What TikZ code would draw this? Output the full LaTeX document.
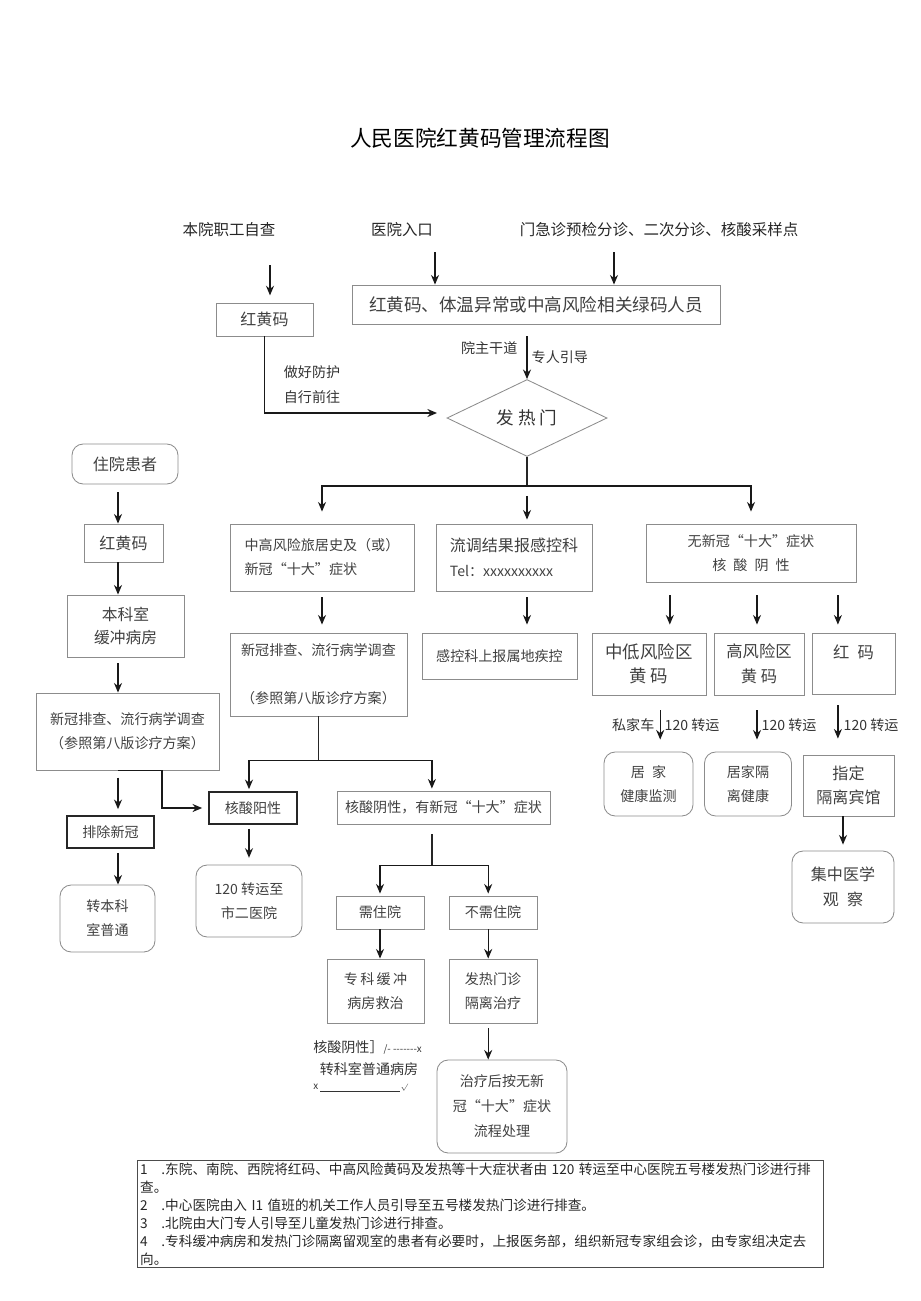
\documentclass[tikz,border=0pt]{standalone}
\usepackage{fontspec}
\setmainfont{Noto Sans CJK SC}
\usetikzlibrary{arrows.meta,shapes.geometric,positioning,calc}

\newcommand\boxfont{\fontsize{10pt}{17pt}\selectfont}
\newcommand\bigboxfont{\fontsize{11.4pt}{17.5pt}\selectfont}

\begin{document}
\begin{tikzpicture}[
        x=0.025cm, y=-0.025cm,
        sz/.style 2 args={minimum width=#1*0.025cm, minimum height=#2*0.025cm},
        box/.style={draw=black!45, line width=0.6pt, align=center, inner sep=0pt, text=black!75, font=\boxfont},
        rbox/.style={box, rounded corners=0.28cm},
        bbox/.style={box, draw=black!85, line width=1.2pt},
        toplbl/.style={font=\fontsize{11pt}{13pt}\selectfont, text=black!85},
        lbl/.style={font=\boxfont, text=black!80, inner sep=1pt},
        link/.style={line width=1pt, draw=black!85},
        arrow/.style={-{Stealth[length=2.4mm, width=2mm]}, line width=1pt, draw=black!90}
    ]
        \useasboundingbox (0,0) rectangle (920,1301);

        % Title and entry points
        \node[font=\fontsize{15.4pt}{18pt}\selectfont] (title) at (480,138) {人民医院红黄码管理流程图};
        \node[toplbl] (staff) at (229,230) {本院职工自查};
        \node[toplbl] (entry) at (402,230) {医院入口};
        \node[toplbl] (triage) at (659,230) {门急诊预检分诊、二次分诊、核酸采样点};

        \node[box, sz={97}{33}, font=\bigboxfont] (staffcode) at (264.5,319.5) {红黄码};
        \node[box, sz={368}{39}, font=\fontsize{12.5pt}{15pt}\selectfont] (suspect) at (536,304.5) {红黄码、体温异常或中高风险相关绿码人员};
        \node[diamond, draw=black!45, line width=0.6pt, inner sep=0pt, sz={160}{73}, text=black!80,
              font=\fontsize{12.5pt}{15pt}\selectfont] (fever) at (527,418) {发 热 门};

        \coordinate (staffarr) at (270,265);
        \coordinate (entryarr) at (435,252);
        \coordinate (triagearr) at (614,252);
        \coordinate (feverin) at (437,413);
        \draw[arrow, shorten >=.18cm] (staffarr) -- (staffarr |- staffcode.north);
        \draw[arrow] (entryarr) -- (entryarr |- suspect.north);
        \draw[arrow] (triagearr) -- (triagearr |- suspect.north);
        \draw[arrow, shorten <=.3cm] (suspect.south -| fever.north) -- (fever.north);
        \draw[arrow] (staffcode) |- (feverin);

        \node[lbl, anchor=east] (mainroad) at (519,348) {院主干道};
        \node[lbl, anchor=west] (guided) at (530,357) {专人引导};
        \node[lbl] (protect) at (312,372) {做好防护};
        \node[lbl] (self) at (312,397) {自行前往};

        % Three branches below the fever clinic
        \node[box, sz={184}{67}, align=left] (travel) at (322,557.5) {中高风险旅居史及（或）\\新冠“十大”症状};
        \node[box, sz={156}{67}, align=left, font=\bigboxfont] (report) at (514,557.5) {流调结果报感控科\\{\boxfont Tel：xxxxxxxxxx}};
        \node[box, sz={210}{58}] (novirus) at (751,553) {无新冠“十大”症状\\核\enspace 酸\enspace 阴\enspace 性};

        \draw[link] (fever.south) -- ++(0,29) coordinate (split1);
        \draw[arrow, shorten >=.3cm] (split1) -| (travel.north);
        \draw[arrow, shorten >=.3cm] (split1) -| (novirus.north);
        \draw[arrow, shorten <=.25cm, shorten >=.1cm] (split1) -- (split1 |- report.north);

        \node[box, sz={177}{83}] (screen) at (318.5,674.5) {新冠排查、流行病学调查\\[17pt]（参照第八版诊疗方案）};
        \node[box, sz={155}{46}] (ctrl) at (499.5,656) {感控科上报属地疾控};
        \draw[arrow, shorten <=.15cm, shorten >=.2cm] (travel.south) -- (travel.south |- screen.north);
        \draw[arrow, shorten <=.15cm, shorten >=.2cm] (split1 |- report.south) -- (split1 |- ctrl.north);

        % Right side: no symptoms, by code colour
        \node[box, sz={114}{62}, font=\fontsize{12.4pt}{17.5pt}\selectfont] (lowrisk) at (649,664) {中低风险区\\黄 码};
        \node[box, sz={90}{62}, font=\fontsize{11.6pt}{17.5pt}\selectfont] (highrisk) at (759,664) {高风险区\\黄 码};
        \node[box, sz={83}{61}, font=\fontsize{11.6pt}{17.5pt}\selectfont] (redcode) at (853.5,663.5) {红\enspace 码\\\mbox{}};
        \draw[arrow, shorten <=.32cm, shorten >=.2cm] ([xshift=.52cm]novirus.south -| lowrisk.north) -- ([xshift=.52cm]lowrisk.north);
        \draw[arrow, shorten <=.32cm, shorten >=.2cm] ([xshift=-.05cm]novirus.south -| highrisk.north) -- ([xshift=-.05cm]highrisk.north);
        \draw[arrow, shorten <=.32cm, shorten >=.2cm] ([xshift=-.39cm]novirus.south -| redcode.north) -- ([xshift=-.39cm]redcode.north);

        \node[rbox, sz={89}{64}] (home) at (648.5,784) {居\enspace 家\\健康监测};
        \node[rbox, sz={87}{64}] (homeiso) at (748,784) {居家隔\\离健康};
        \node[box, sz={91}{61}, font=\bigboxfont] (hotel) at (848.5,785.5) {指定\\隔离宾馆};
        \node[rbox, sz={102}{72}, font=\bigboxfont] (central) at (843,887) {集中医学\\观\enspace 察};
        \draw[arrow, shorten <=.37cm, shorten >=.3cm] ([xshift=.28cm]lowrisk.south) -- ([xshift=.28cm]lowrisk.south |- home.north);
        \draw[arrow, shorten <=.37cm, shorten >=.3cm] ([xshift=-.05cm]highrisk.south) -- ([xshift=-.05cm]highrisk.south |- homeiso.north);
        \draw[arrow, shorten <=.27cm, shorten >=.4cm] ([xshift=-.39cm]redcode.south) -- ([xshift=-.39cm]redcode.south |- hotel.north);
        \draw[arrow, shorten >=.15cm] (hotel.south -| central.north) -- (central.north);

        \node[lbl, anchor=east] (car) at (656,725) {私家车};
        \node[lbl, anchor=west] (ambu1) at (663,725) {120 转运};
        \node[lbl, anchor=west] (ambu2) at (760,725) {120 转运};
        \node[lbl, anchor=west] (ambu3) at (842,725) {120 转运};

        % Left column: inpatients
        \coordinate (lcol) at (118,0);
        \coordinate (jog) at (162,0);
        \node[rbox, sz={106}{40}, font=\bigboxfont] (inpatient) at (125,464) {住院患者};
        \node[box, sz={79}{38}, font=\bigboxfont] (lcode) at (123.5,543) {红黄码};
        \node[box, sz={117}{62}, font=\fontsize{11.2pt}{16.5pt}\selectfont] (buffer) at (125.5,626) {本科室\\缓冲病房};
        \node[box, sz={183}{77}] (lscreen) at (127.5,731.5) {新冠排查、流行病学调查\\（参照第八版诊疗方案）};
        \node[bbox, sz={87}{32}] (exclude) at (110.5,832) {排除新冠};
        \node[rbox, sz={95}{67}] (transfer) at (107.5,918.5) {转本科\\室普通};

        \draw[arrow, shorten <=.2cm] (inpatient.south -| lcol) -- (lcode.north -| lcol);
        \draw[arrow] (lcode.south -| lcol) -- (buffer.north -| lcol);
        \draw[arrow, shorten <=.15cm] (buffer.south -| lcol) -- (lscreen.north -| lcol);
        \draw[arrow, shorten <=.18cm, shorten >=.15cm] (lscreen.south -| lcol) -- (exclude.north -| lcol);
        \draw[arrow, shorten <=.1cm] (exclude.south -| lcol) -- (transfer.north -| lcol);

        % Nucleic acid results
        \node[bbox, sz={88}{32}] (positive) at (253,808) {核酸阳性};
        \node[box, sz={213}{33}] (negative) at (443.5,807.5) {核酸阴性，有新冠“十大”症状};
        \node[rbox, sz={106}{72}] (hosp2) at (249,901) {120 转运至\\市二医院};

        \draw[arrow, shorten >=.15cm] (lscreen.south -| lcol) -- (lscreen.south -| jog) |- (positive.west);
        \draw[link] (screen.south) -- ++(0,44) coordinate (split2);
        \draw[arrow, shorten >=.05cm] (split2) -| ([xshift=-.1cm]positive.north);
        \draw[arrow, shorten >=.05cm] (split2) -| ([xshift=-.29cm]negative.north);
        \draw[arrow, shorten <=.1cm, shorten >=.17cm] (positive.south -| hosp2.north) -- (hosp2.north);

        \node[box, sz={88}{33}] (inpat) at (380,912.5) {需住院};
        \node[box, sz={88}{33}] (outpat) at (493,912.5) {不需住院};
        \node[box, sz={97}{64}] (buffer2) at (375.5,991) {专\,科\,缓\,冲\\病房救治};
        \node[box, sz={88}{64}] (isolate) at (493,991) {发热门诊\\隔离治疗};
        \node[rbox, sz={130}{93}, font=\fontsize{10pt}{17.7pt}\selectfont] (after) at (502,1106.5) {治疗后按无新\\冠“十大”症状\\流程处理};

        \draw[link, shorten <=.25cm] ([xshift=-.29cm]negative.south) -- ++(0,41) coordinate (split3);
        \draw[arrow, shorten >=.05cm] (split3) -| (inpat.north);
        \draw[arrow, shorten >=.05cm] (split3) -| ([xshift=-.12cm]outpat.north);
        \draw[arrow] (inpat.south) -- (inpat.south |- buffer2.north);
        \draw[arrow] ([xshift=-.12cm]outpat.south) -- ([xshift=-.12cm]outpat.south |- isolate.north);
        \draw[arrow, shorten <=.12cm] ([xshift=-.12cm]isolate.south) -- ([xshift=-.12cm]isolate.south |- after.north);

        \node[lbl, anchor=west, inner sep=0pt] (negnote) at (313,1047) {核酸阴性］{\fontsize{7pt}{8pt}\selectfont /- -{}-{}-{}-{}-{}-{}-x}};
        \node[lbl, inner sep=0pt] (wardnote) at (369,1069) {转科室普通病房};
        \node[lbl, anchor=west, inner sep=0pt, font=\fontsize{7pt}{8pt}\selectfont] (marknote) at (313,1088) {x \rule[-1pt]{2cm}{0.4pt}${\scriptscriptstyle\surd}$};

        % Notes
        \node[draw=black!70, line width=0.6pt, anchor=north west, align=left, text width=17.0cm,
              inner xsep=0.07cm, inner ysep=0.06cm, text=black!85,
              font=\fontsize{9.7pt}{12.8pt}\selectfont] (notes) at (137,1160)
              {1\quad .东院、南院、西院将红码、中高风险黄码及发热等十大症状者由~120~转运至中心医院五号楼发热门诊进行排\\
               查。\\
               2\quad .中心医院由入~I1~值班的机关工作人员引导至五号楼发热门诊进行排查。\\
               3\quad .北院由大门专人引导至儿童发热门诊进行排查。\\
               4\quad .专科缓冲病房和发热门诊隔离留观室的患者有必要时，上报医务部，组织新冠专家组会诊，由专家组决定去\\
               向。};
    \end{tikzpicture}
\end{document}
